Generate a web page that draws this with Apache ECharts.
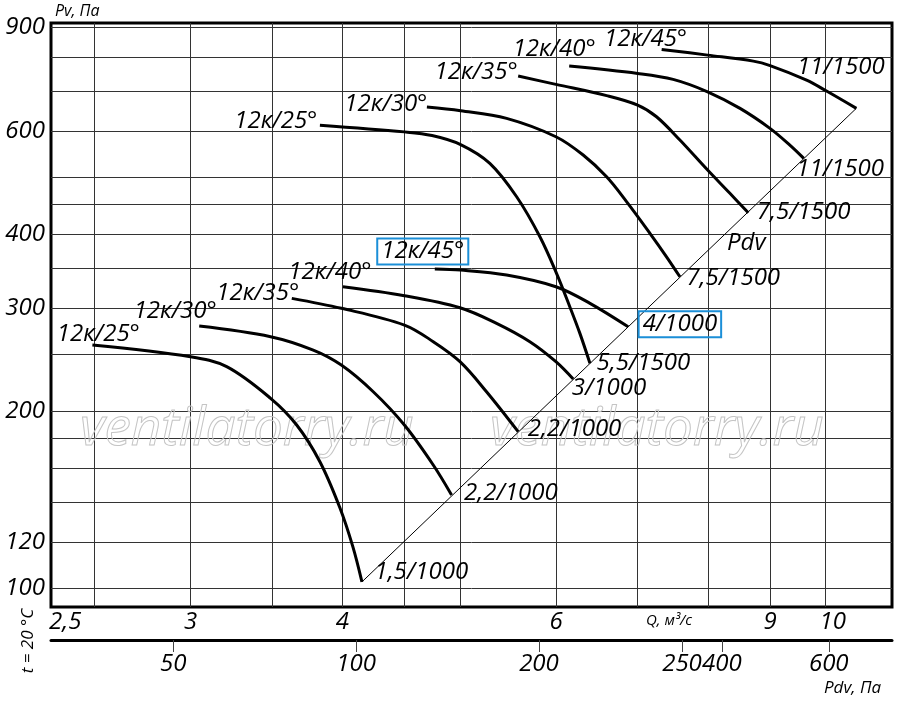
<!DOCTYPE html>
<html>
<head>
<meta charset="utf-8">
<script src="https://cdn.jsdelivr.net/npm/echarts@6/dist/echarts.min.js"></script>
<style>
  html, body { margin: 0; padding: 0; background: #fff; }
  #chart { width: 900px; height: 705px; }
</style>
</head>
<body>
<div id="chart"></div>
<script>
// Q, м³/с  (log)
var qGrid = [2.5, 3, 3.5, 4, 4.5, 5, 6, 7, 8, 9, 10];
var qLabels = [2.5, 3, 4, 6, 9, 10];
// Pv, Па (log)
var pvGrid = [100, 120, 140, 160, 180, 200, 250, 300, 350, 400, 450, 500, 600, 700, 800, 900];
var pvLabels = [100, 120, 200, 300, 400, 600, 900];
// Pdv, Па scale under the chart
var pdvTicks = [50, 100, 200, 344, 400, 600];
var pdvTickText = ['50', '100', '200', '250', '400', '600'];

// curves [Q, Pv], 1000 rpm
var k25_1000 = [[2.491, 259.5], [3.0, 247.9], [3.213, 238.4], [3.492, 210.6], [3.669, 189.7], [3.834, 164.3], [3.982, 137.2], [4.081, 117.8], [4.152, 102.6]];
var k30_1000 = [[3.05, 279.5], [3.492, 268.1], [3.786, 254.4], [3.993, 239.9], [4.242, 216.1], [4.5, 189.7], [4.753, 162.2], [4.921, 144.2]];
var k35_1000 = [[3.635, 311.5], [3.993, 299.6], [4.5, 280.6], [4.753, 262.9], [5.0, 243.1], [5.258, 216.1], [5.583, 184.8]];
var k40_1000 = [[4.005, 326], [4.5, 314.8], [5.0, 300.3], [5.359, 282.5], [5.708, 262.9], [5.997, 243.1], [6.197, 227.1]];
var k45_1000 = [[4.767, 349.4], [5.006, 348], [5.462, 341.3], [5.997, 326], [6.397, 305.5], [6.877, 278.7]];
// curves [Q, Pv], 1500 rpm
var k25_1500 = [[3.834, 614], [4.5, 598], [4.742, 589.5], [5.006, 569], [5.291, 528.6], [5.567, 463.8], [5.818, 396.6], [6.004, 343.6], [6.157, 301.5], [6.276, 271.6], [6.397, 241.5]];
var k30_1500 = [[4.696, 659], [5.006, 649.6], [5.462, 630.5], [5.997, 586.7], [6.315, 546.1], [6.602, 501.4], [6.856, 455], [7.167, 401.9], [7.396, 366.6], [7.586, 339]];
var k35_1500 = [[5.583, 744.2], [5.997, 720.3], [6.602, 689.3], [7.002, 664.2], [7.257, 634.5], [7.586, 579.2], [7.995, 514.9], [8.34, 470.1], [8.636, 435.6]];
var k40_1500 = [[6.15, 773.9], [7.002, 751.8], [7.489, 734.5], [7.995, 699.7], [8.502, 655.6], [8.998, 606.3], [9.344, 567.8], [9.594, 539]];
var k45_1500 = [[7.328, 826], [7.995, 807.7], [8.718, 788.9], [9.0, 775.4], [9.645, 732.4], [10.0, 703], [10.6, 655.6]];

// Pdv line
var pdvLine = [[4.152, 102.6], [10.6, 656]];

var curves = [k25_1000, k30_1000, k35_1000, k40_1000, k45_1000, k25_1500, k30_1500, k35_1500, k40_1500, k45_1500];
var bladeNames = ['12к/25°', '12к/30°', '12к/35°', '12к/40°', '12к/45°', '12к/25°', '12к/30°', '12к/35°', '12к/40°', '12к/45°'];
var motorNames = ['1,5/1000', '2,2/1000', '2,2/1000', '3/1000', '4/1000', '5,5/1500', '7,5/1500', '7,5/1500', '11/1500', '11/1500'];
var boxedStart = [false, false, false, false, true, false, false, false, false, false];
var boxedEnd = [false, false, false, false, true, false, false, false, false, false];

// label placement (px offsets from curve ends)
var startPos = [[48, 2], [18, -2], [8, 7], [29, -2], [34, -4], [-2, 9], [1, 10], [0, 9], [27, -4], [26, 2]];
var endPos = [[13, -9], [13, -1], [10, -2], [-1, 10], [11, -2], [7, 0], [7, 2], [9, 0], [-7, 11], [-59, -41]];

var K = 5.93;           // Pdv = K * Q^2
var qMin = 2.303, qMax = 11.34;
var pvMin = 93, pvMax = 916;

var FONT = 'Open Sans';
var BLUE = '#1b8fd8';

function txt(size) {
  return { fontFamily: FONT, fontStyle: 'italic', fontSize: size, color: '#000' };
}

function boxStyle(on) {
  return on ? { borderColor: BLUE, borderWidth: 2, padding: [1, 4, 1, 4] } : {};
}

var series = curves.map(function (c, i) {
  var first = c[0], last = c[c.length - 1];
  return {
    type: 'line',
    data: c,
    smooth: 0.35,
    showSymbol: false,
    symbol: 'none',
    lineStyle: { color: '#000', width: 3 },
    z: 3,
    markPoint: {
      symbol: 'circle',
      symbolSize: 1,
      silent: true,
      itemStyle: { color: 'rgba(0,0,0,0)' },
      data: [
        {
          coord: first,
          label: Object.assign({
            show: true, formatter: bladeNames[i], position: startPos[i],
            align: 'right', verticalAlign: 'bottom', lineHeight: 24
          }, txt(24), boxStyle(boxedStart[i]))
        },
        {
          coord: last,
          label: Object.assign({
            show: true, formatter: motorNames[i], position: endPos[i],
            align: 'left', verticalAlign: 'middle', lineHeight: 24
          }, txt(24), boxStyle(boxedEnd[i]))
        }
      ]
    }
  };
});

series.push({
  type: 'line',
  data: pdvLine,
  showSymbol: false,
  symbol: 'none',
  lineStyle: { color: '#000', width: 1 },
  z: 3
});

var chart = echarts.init(document.getElementById('chart'));

chart.setOption({
  animation: false,
  backgroundColor: '#fff',
  grid: {
    left: 51, right: 8, top: 23, bottom: 98,
    show: true, borderColor: '#000', borderWidth: 3
  },
  xAxis: [
    {
      type: 'log',
      min: qMin,
      max: qMax,
      axisLine: { show: false },
      axisTick: { show: false, customValues: qGrid },
      splitLine: { show: true, lineStyle: { color: '#333', width: 1 } },
      axisLabel: Object.assign({
        customValues: qLabels,
        margin: 3,
        formatter: function (v) {
          var s = String(v).replace('.', ',');
          if (Math.abs(v - 2.5) < 1e-6) return '{l|' + s + '}';
          if (Math.abs(v - 10) < 1e-6) return '{r|' + s + '}';
          return s;
        },
        rich: {
          l: Object.assign({ padding: [0, 58, 0, 0] }, txt(24)),
          r: Object.assign({ padding: [0, 0, 0, 14] }, txt(24))
        }
      }, txt(24))
    },
    {
      type: 'log',
      position: 'bottom',
      offset: 33,
      min: K * qMin * qMin,
      max: K * qMax * qMax,
      axisLine: { show: true, onZero: false, lineStyle: { color: '#000', width: 3 } },
      axisTick: { show: true, customValues: pdvTicks, length: 12, lineStyle: { color: '#444', width: 1 } },
      splitLine: { show: false },
      axisLabel: Object.assign({
        customValues: pdvTicks,
        margin: 12,
        formatter: function (v) {
          var best = 0;
          for (var i = 1; i < pdvTicks.length; i++) {
            if (Math.abs(pdvTicks[i] - v) < Math.abs(pdvTicks[best] - v)) best = i;
          }
          return pdvTickText[best];
        }
      }, txt(24))
    }
  ],
  yAxis: {
    type: 'log',
    min: pvMin,
    max: pvMax,
    name: 'Pv, Па',
    nameLocation: 'end',
    nameGap: 4,
    nameTextStyle: { fontFamily: FONT, fontStyle: 'italic', fontSize: 16, color: '#000', align: 'left', verticalAlign: 'bottom', padding: [0, 0, 0, 4] },
    axisLine: { show: false },
    axisTick: { show: false, customValues: pvGrid },
    splitLine: { show: true, lineStyle: { color: '#333', width: 1 } },
    axisLabel: Object.assign({ customValues: pvLabels, margin: 6 }, txt(24))
  },
  graphic: {
    elements: [
      { type: 'text', x: 80, y: 403, z: 1, silent: true,
        style: { text: 'ventilatorry.ru', fontFamily: FONT, fontStyle: 'italic', fontSize: 53, fill: 'rgba(0,0,0,0)', stroke: '#c4c4c4', lineWidth: 1 } },
      { type: 'text', x: 490, y: 403, z: 1, silent: true,
        style: { text: 'ventilatorry.ru', fontFamily: FONT, fontStyle: 'italic', fontSize: 53, fill: 'rgba(0,0,0,0)', stroke: '#c4c4c4', lineWidth: 1 } },
      { type: 'text', x: 727, y: 231, z: 5,
        style: { text: 'Pdv', fontFamily: FONT, fontStyle: 'italic', fontSize: 24, fill: '#000' } },
      { type: 'text', x: 646, y: 613, z: 5,
        style: { text: 'Q, м³/с', fontFamily: FONT, fontStyle: 'italic', fontSize: 15, fill: '#000' } },
      { type: 'text', x: 824, y: 680, z: 5,
        style: { text: 'Pdv, Па', fontFamily: FONT, fontStyle: 'italic', fontSize: 17, fill: '#000' } },
      { type: 'text', x: 28, y: 641, rotation: Math.PI / 2, z: 5,
        style: { text: 't = 20 °C', fontFamily: FONT, fontStyle: 'italic', fontSize: 17, fill: '#000', align: 'center', verticalAlign: 'middle' } }
    ]
  },
  series: series
});
</script>
</body>
</html>
